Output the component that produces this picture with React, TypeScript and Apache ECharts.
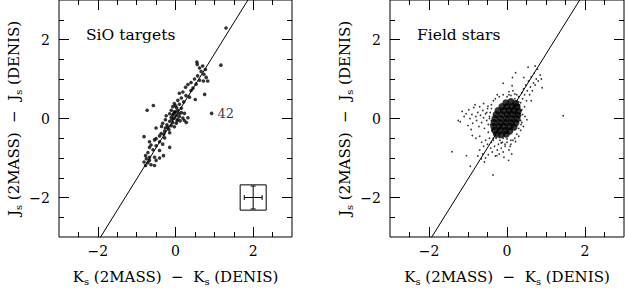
import React, { useEffect, useRef } from "react";
import * as echarts from "echarts";

// ---------- data ----------
const majorTicks = [-2, 0, 2];
const minorTicks = [-2.5, -2, -1.5, -1, -0.5, 0, 0.5, 1, 1.5, 2, 2.5];

// relation line drawn across the frame (clipped)
const relLineX = [-3.2, 3.2];
const relLineY = [-5.01, 5.11];

// SiO targets: [ΔKs, ΔJs]
const sioTargets: [number, number][] = [
  [1.3, 2.29], [1.17, 1.35], [0.55, 1.43], [0.56, 1.37], [0.62, 1.28], [0.7, 1.33],
  [0.77, 1.24], [0.66, 1.19], [0.73, 1.12], [0.57, 1.08], [0.79, 1.04], [0.49, 1.0],
  [0.62, 0.97], [0.4, 0.91], [0.53, 0.87], [0.32, 0.86], [0.26, 0.79], [0.45, 0.77],
  [0.72, 0.95], [0.83, 0.95], [0.75, 0.61], [0.4, 0.71], [0.19, 0.67], [0.1, 0.64],
  [0.27, 0.58], [0.36, 0.54], [0.51, 0.48], [0.15, 0.52], [0.06, 0.46], [0.21, 0.42],
  [-0.03, 0.38], [0.1, 0.36], [-0.57, 0.33], [-0.73, 0.21], [-0.07, 0.3],
  [0.03, 0.27], [0.15, 0.26], [-0.11, 0.21], [-0.03, 0.17], [0.06, 0.2], [0.15, 0.15],
  [0.23, 0.13], [-0.15, 0.12], [-0.07, 0.09], [0.02, 0.07], [0.1, 0.05], [-0.24, 0.07],
  [-0.11, 0.03], [-0.03, 0.01], [0.06, -0.02], [0.19, 0.01], [0.23, -0.05], [-0.26, -0.03],
  [-0.15, -0.07], [-0.07, -0.1], [0.02, -0.12], [-0.33, -0.12], [-0.22, -0.16], [-0.11, -0.18],
  [-0.03, -0.21], [-0.5, -0.24], [-0.26, -0.24], [-0.17, -0.28], [-0.28, -0.32], [-0.15, -0.36],
  [-0.37, -0.38], [-0.81, -0.46], [-0.41, -0.44], [-0.28, -0.49], [-0.5, -0.51], [-0.54, -0.54],
  [-0.67, -0.59], [-0.41, -0.59], [-0.33, -0.65], [-0.63, -0.67], [-0.5, -0.69], [-0.15, -0.73],
  [-0.67, -0.73], [-0.58, -0.79], [-0.41, -0.81], [-0.71, -0.86], [-0.77, -0.94], [-0.67, -0.98],
  [-0.54, -0.98], [-0.41, -1.0], [-0.31, -0.94], [-0.75, -1.02], [-0.81, -1.1], [-0.71, -1.12],
  [-0.63, -1.17], [-0.54, -1.19], [-0.5, -1.06], [-0.77, -1.19], [-0.67, -1.06],
  [-0.05, 0.12], [0.0, 0.16], [0.09, 0.12], [-0.09, -0.02], [0.12, -0.06], [0.04, -0.06],
  [-0.2, -0.22], [-0.36, -0.2], [-0.3, -0.4], [0.28, -0.1], [0.32, 0.02], [0.0, 0.32],
];
const star42: [number, number] = [0.93, 0.13];
const star42Label = "42";

// typical error bar (box centred at [2,-2])
const errCentre: [number, number] = [2, -2];
const errX = 0.23;
const errY = 0.29;
const errBoxHalfX = 0.335;
const errBoxHalfY = 0.32;

// field stars: dense core of the distribution
const fieldCore: [number, number][] = [
  [-0.03, 0.4], [0.1, 0.43], [0.22, 0.38],
  [-0.13, 0.3], [0.0, 0.3], [0.13, 0.3], [0.26, 0.29],
  [-0.23, 0.2], [-0.09, 0.2], [0.05, 0.2], [0.18, 0.2], [0.29, 0.19],
  [-0.28, 0.1], [-0.13, 0.1], [0.01, 0.1], [0.15, 0.1], [0.28, 0.09],
  [-0.31, 0.0], [-0.17, 0.0], [-0.02, 0.0], [0.12, 0.0], [0.26, -0.01],
  [-0.33, -0.1], [-0.18, -0.1], [-0.03, -0.1], [0.11, -0.1], [0.23, -0.11],
  [-0.34, -0.2], [-0.2, -0.2], [-0.06, -0.2], [0.08, -0.2], [0.18, -0.22],
  [-0.32, -0.3], [-0.18, -0.3], [-0.04, -0.3], [0.07, -0.32],
  [-0.27, -0.4], [-0.14, -0.41], [-0.02, -0.4],
];
// field stars: individual stars around the core
const fieldStars: [number, number][] = [
  [-1.15, 0.18], [-1.1, 0.05], [-1.2, -0.08], [-1.05, 0.12], [-0.98, 0.22], [-0.95, 0.0],
  [-0.9, 0.1], [-0.88, -0.12], [-0.85, 0.28], [-0.8, 0.05], [-0.78, -0.05], [-0.75, 0.15],
  [-0.72, -0.2], [-0.7, 0.3], [-0.68, 0.08], [-0.65, -0.1], [-0.62, 0.2], [-0.6, 0.02],
  [-0.58, -0.25], [-0.55, 0.12], [-0.52, -0.05], [-0.5, 0.25], [-0.48, -0.15], [-0.45, 0.05],
  [-1.25, -0.05], [-1.0, -0.18], [-0.82, 0.35], [-0.92, -0.28], [-0.6, 0.38], [-0.49, 0.31],
  [-0.89, -0.43], [-0.8, -0.5], [-0.7, -0.45], [-0.65, -0.6], [-0.6, -0.7], [-0.55, -0.55],
  [-0.5, -0.65], [-0.45, -0.5], [-0.42, -0.75], [-0.4, -0.6], [-0.38, -0.85], [-0.35, -0.55],
  [-0.32, -0.7], [-0.3, -0.95], [-0.28, -0.5], [-0.25, -0.8], [-0.22, -0.65], [-0.2, -0.9],
  [-0.18, -0.55], [-0.15, -0.75], [-0.12, -0.6], [-0.1, -0.85], [-0.05, -0.7], [0.0, -0.6],
  [0.05, -0.8], [0.1, -0.65], [0.15, -0.55], [-0.7, -0.8], [-0.75, -0.95], [-0.62, -0.9],
  [-0.55, -1.0], [-0.48, -0.92], [-0.58, -1.1], [-0.66, -1.02], [-0.26, -0.94], [0.04, -1.06],
  [-0.36, -1.43], [-0.94, -1.21], [-1.04, -0.94], [-1.41, -0.84], [-0.08, -0.98], [0.12, -0.9],
  [0.25, 0.45], [0.3, 0.55], [0.35, 0.4], [0.38, 0.65], [0.4, 0.5], [0.42, 0.75],
  [0.45, 0.6], [0.48, 0.85], [0.5, 0.45], [0.52, 0.7], [0.55, 0.95], [0.58, 0.6],
  [0.6, 0.8], [0.62, 1.05], [0.65, 0.7], [0.68, 0.9], [0.7, 1.15], [0.72, 0.85],
  [0.75, 1.0], [0.78, 1.25], [0.8, 0.95], [0.85, 1.1], [0.88, 1.0], [0.72, 1.33],
  [0.54, 1.3], [0.43, 1.04], [0.14, 1.04], [-0.1, 0.89], [0.13, 0.83], [0.15, 0.7],
  [0.2, 0.62], [0.05, 0.6], [0.32, 0.35], [0.28, 0.25], [0.35, 0.2], [0.4, 0.1],
  [0.45, 0.3], [0.51, -0.03], [0.46, 0.05], [0.42, -0.2], [0.38, -0.1], [0.35, -0.3],
  [0.3, -0.45], [1.44, 0.07], [0.22, 1.16], [0.62, 0.45], [0.9, 0.78],
  [-0.4, 0.35], [-0.35, 0.45], [-0.3, 0.5], [-0.2, 0.55], [-0.1, 0.6], [0.0, 0.55],
  [0.1, 0.58], [0.2, 0.5], [0.3, 0.3], [0.32, 0.1], [0.35, -0.05], [0.3, -0.25],
  [0.25, -0.4], [0.2, -0.5], [0.1, -0.55], [0.0, -0.52], [-0.1, -0.5], [-0.2, -0.48],
  [-0.3, -0.42], [-0.38, -0.3], [-0.42, -0.15], [-0.45, 0.0], [-0.43, 0.15], [-0.4, 0.25],
  [-0.25, 0.6], [0.05, 0.68], [0.25, 0.6], [0.38, 0.22], [0.36, -0.15], [-0.15, -0.62],
  [-0.35, -0.5], [-0.48, -0.35], [-0.52, 0.15], [-0.4, -0.05], [0.3, 0.42], [0.22, -0.58],
  [-0.05, -0.65], [0.08, -0.7],
];

const xTitle = "{m|K}{s|s}{m| (2MASS)  −  }{m|K}{s|s}{m| (DENIS)}";
const yTitle = "{m|J}{s|s}{m| (2MASS)  −  }{m|J}{s|s}{m| (DENIS)}";
const panelTitles = ["SiO targets", "Field stars"];

// ---------- chart ----------
const FONT = "DejaVu Serif";
const X_RANGE = [-3, 3];
const Y_RANGE = [-3, 3];

const fmt = (v: number) => (v < 0 ? "−" + Math.abs(v) : String(v));

const richStyle = {
  m: { fontFamily: FONT, fontSize: 15, color: "#000", lineHeight: 19 },
  s: { fontFamily: FONT, fontSize: 10, color: "#000", lineHeight: 19, verticalAlign: "bottom" as const, padding: [5, 0, 0, 0] },
};

function makeAxes(kind: "x" | "y", gridIndex: number) {
  const range = kind === "x" ? X_RANGE : Y_RANGE;
  const mainPos = kind === "x" ? "bottom" : "left";
  const oppPos = kind === "x" ? "top" : "right";
  const base = {
    type: "value",
    gridIndex,
    min: range[0],
    max: range[1],
    splitLine: { show: false },
    axisLine: { show: false, onZero: false },
  };
  const tickStyle = { lineStyle: { color: "#000", width: 1 } };
  return [
    {
      ...base,
      position: mainPos,
      axisTick: { show: true, inside: true, length: 10, customValues: majorTicks, ...tickStyle },
      axisLabel: {
        show: true,
        customValues: majorTicks,
        formatter: fmt,
        fontFamily: FONT,
        fontSize: 14,
        color: "#000",
        margin: kind === "x" ? 7 : 9,
      },
      name: kind === "x" ? xTitle : yTitle,
      nameLocation: "middle",
      nameGap: kind === "x" ? 30 : 36,
      nameTextStyle: { rich: richStyle },
    },
    {
      ...base,
      position: mainPos,
      axisTick: { show: true, inside: true, length: 5, customValues: minorTicks, ...tickStyle },
      axisLabel: { show: false },
    },
    {
      ...base,
      position: oppPos,
      axisTick: { show: true, inside: true, length: 10, customValues: majorTicks, ...tickStyle },
      axisLabel: { show: false },
    },
    {
      ...base,
      position: oppPos,
      axisTick: { show: true, inside: true, length: 5, customValues: minorTicks, ...tickStyle },
      axisLabel: { show: false },
    },
  ];
}

export default function App() {
  const ref = useRef<HTMLDivElement>(null);
  useEffect(() => {
    if (!ref.current) return;
    const chart = echarts.init(ref.current, null, { renderer: "svg" });
    const relLine = relLineX.map((x, i) => [x, relLineY[i]]);
    const option: any = {
      animation: false,
      backgroundColor: "#fff",
      grid: [
        { left: 59, top: -0.5, width: 233, height: 243.5, show: true, borderColor: "#000", borderWidth: 1, backgroundColor: "transparent" },
        { left: 390, top: -0.5, width: 234, height: 243.5, show: true, borderColor: "#000", borderWidth: 1, backgroundColor: "transparent" },
      ],
      xAxis: [...makeAxes("x", 0), ...makeAxes("x", 1)],
      yAxis: [...makeAxes("y", 0), ...makeAxes("y", 1)],
      graphic: panelTitles.map((t, i) => ({
        type: "text",
        left: i === 0 ? 86 : 417,
        top: 27,
        style: { text: t, fontFamily: FONT, fontSize: 15.5, fill: "#000" },
      })),
      series: [
        {
          type: "line",
          xAxisIndex: 0,
          yAxisIndex: 0,
          data: relLine,
          showSymbol: false,
          clip: true,
          lineStyle: { color: "#000", width: 1 },
          silent: true,
        },
        {
          type: "scatter",
          xAxisIndex: 0,
          yAxisIndex: 0,
          data: sioTargets,
          symbolSize: 3.6,
          itemStyle: { color: "#000" },
        },
        {
          type: "scatter",
          xAxisIndex: 0,
          yAxisIndex: 0,
          data: [star42],
          symbolSize: 3.6,
          itemStyle: { color: "#000" },
          label: {
            show: true,
            position: "right",
            distance: 4,
            formatter: () => star42Label,
            fontFamily: FONT,
            fontSize: 13,
            color: "#000",
          },
        },
        {
          type: "custom",
          xAxisIndex: 0,
          yAxisIndex: 0,
          data: [errCentre],
          renderItem: (_params: any, api: any) => {
            const cx = api.value(0);
            const cy = api.value(1);
            const tl = api.coord([cx - errBoxHalfX, cy + errBoxHalfY]);
            const br = api.coord([cx + errBoxHalfX, cy - errBoxHalfY]);
            const l = api.coord([cx - errX, cy]);
            const r = api.coord([cx + errX, cy]);
            const t = api.coord([cx, cy + errY]);
            const b = api.coord([cx, cy - errY]);
            const cap = 2.5;
            const ls = { stroke: "#000", lineWidth: 1 };
            return {
              type: "group",
              children: [
                { type: "rect", shape: { x: tl[0], y: tl[1], width: br[0] - tl[0], height: br[1] - tl[1] }, style: { fill: "none", stroke: "#000", lineWidth: 1 } },
                { type: "line", shape: { x1: l[0], y1: l[1], x2: r[0], y2: r[1] }, style: ls },
                { type: "line", shape: { x1: t[0], y1: t[1], x2: b[0], y2: b[1] }, style: ls },
                { type: "line", shape: { x1: l[0], y1: l[1] - cap, x2: l[0], y2: l[1] + cap }, style: ls },
                { type: "line", shape: { x1: r[0], y1: r[1] - cap, x2: r[0], y2: r[1] + cap }, style: ls },
                { type: "line", shape: { x1: t[0] - cap, y1: t[1], x2: t[0] + cap, y2: t[1] }, style: ls },
                { type: "line", shape: { x1: b[0] - cap, y1: b[1], x2: b[0] + cap, y2: b[1] }, style: ls },
              ],
            };
          },
        },
        {
          type: "line",
          xAxisIndex: 4,
          yAxisIndex: 4,
          data: relLine,
          showSymbol: false,
          clip: true,
          lineStyle: { color: "#000", width: 1 },
          silent: true,
        },
        {
          type: "scatter",
          xAxisIndex: 4,
          yAxisIndex: 4,
          data: fieldCore,
          symbolSize: 7,
          itemStyle: { color: "#000" },
        },
        {
          type: "scatter",
          xAxisIndex: 4,
          yAxisIndex: 4,
          data: fieldStars,
          symbolSize: 1.7,
          itemStyle: { color: "#000" },
        },
      ],
    };
    chart.setOption(option);
    return () => chart.dispose();
  }, []);
  return <div ref={ref} style={{ position: "fixed", left: 0, top: 0, width: 625, height: 291, background: "#fff" }} />;
}
